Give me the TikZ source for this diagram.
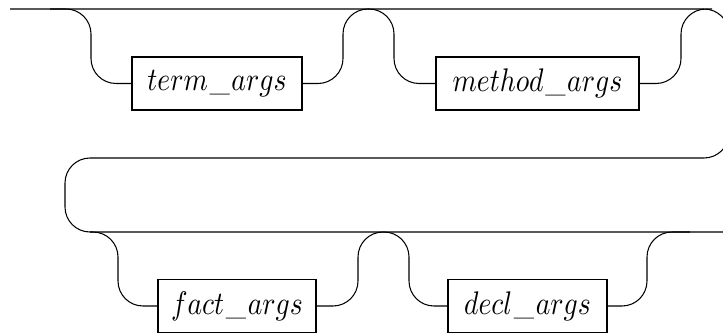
\documentclass[tikz,border=0pt]{standalone}
\usepackage{fontspec}
\newcommand{\ntname}[1]{\scalebox{1}[1.18]{$#1$}}
\newcommand{\uscore}{\mbox{\kern0.6pt\resizebox*{7.3pt}{\totalheight}{\_}\kern0.6pt}}
\begin{document}
\begin{tikzpicture}[x=0.361pt,y=-0.361pt,line width=0.38pt,
  ntbox/.style={draw,rectangle,minimum height=19.13pt,inner sep=0pt},
  rail/.style={draw,rounded corners=9.03pt}]
\useasboundingbox (0,0) rectangle (723,333);
\clip (0,0) rectangle (723,333);
% boxes
\node[ntbox,minimum width=61.37pt] (t) at (217,83.5) {\ntname{term\uscore args}};
\node[ntbox,minimum width=73.28pt] (m) at (537.5,83.5) {\ntname{method\uscore args}};
\node[ntbox,minimum width=57.04pt] (f) at (237,306) {\ntname{fact\uscore args}};
\node[ntbox,minimum width=57.4pt] (d) at (527.5,306) {\ntname{decl\uscore args}};
% junction points
\coordinate (start) at (10,9);
\coordinate (j1) at (50,9);
\coordinate (j2) at (368,9);
\coordinate (j3) at (712,9);
\coordinate (j4) at (90,232);
\coordinate (j5) at (383.5,232);
\coordinate (j6) at (690,232);
\coordinate (finish) at (745,232);
% main line with return loop
\draw[rail] (start) -- (729,9) -- (729,158) -- (65,158) -- (65,232) -- (finish);
% first row branches
\draw[rail] (j1) -- (91,9) -- (91,83.5) -- (t.west);
\draw[rail] (t.east) -- (343,83.5) -- (343,9) -- (j2);
\draw[rail] (j2) -- (394,9) -- (394,83.5) -- (m.west);
\draw[rail] (m.east) -- (681,83.5) -- (681,9) -- (j3);
% second row branches
\draw[rail] (j4) -- (118,232) -- (118,306) -- (f.west);
\draw[rail] (f.east) -- (358,306) -- (358,232) -- (j5);
\draw[rail] (j5) -- (409,232) -- (409,306) -- (d.west);
\draw[rail] (d.east) -- (647,306) -- (647,232) -- (j6);
\end{tikzpicture}
\end{document}
